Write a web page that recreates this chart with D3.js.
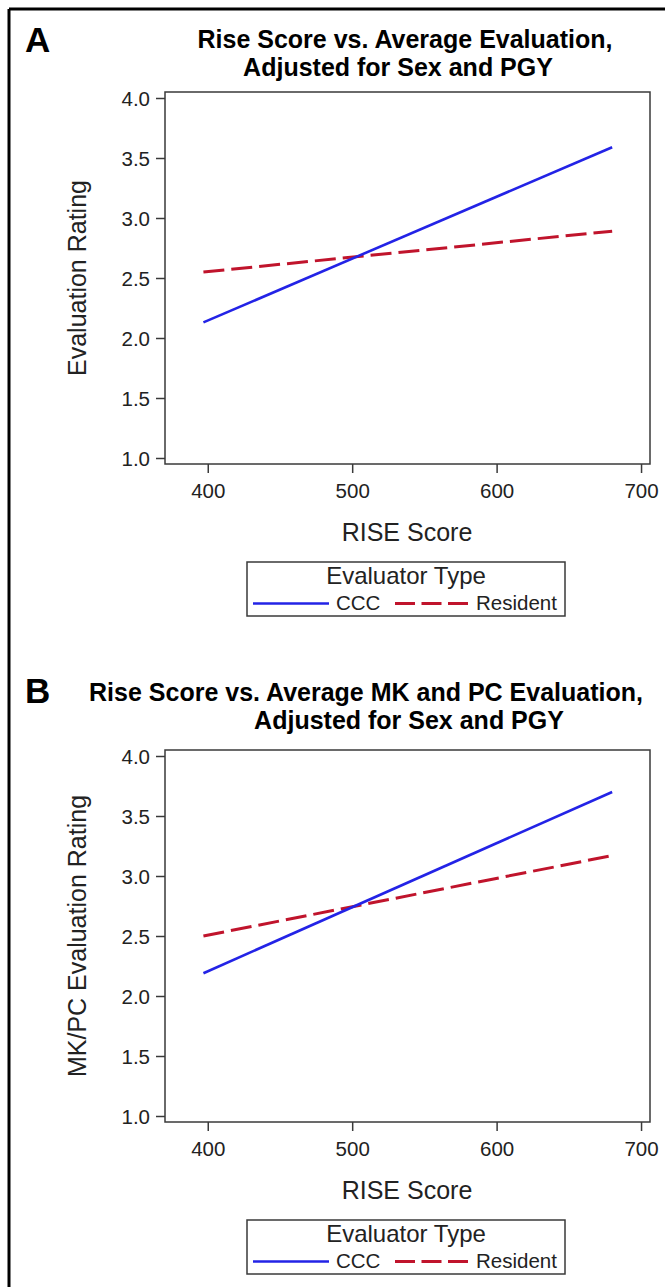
<!DOCTYPE html>
<html>
<head>
<meta charset="utf-8">
<script src="https://cdn.jsdelivr.net/npm/d3@7"></script>
<style>
  body { margin: 0; background: #fff; }
  svg { display: block; font-family: "Liberation Sans", Arial, sans-serif; }
</style>
</head>
<body>
<svg id="chart"></svg>
<script>
// data (straight fitted lines, two end points each)
var riseScores = [397, 680];
var cccA = [2.13, 3.59];
var residentA = [2.55, 2.89];
var cccB = [2.19, 3.70];
var residentB = [2.50, 3.17];

var xTicks = [400, 500, 600, 700];
var yTicks = [1.0, 1.5, 2.0, 2.5, 3.0, 3.5, 4.0];
var seriesNames = ["CCC", "Resident"];

var W = 665, H = 1287;
var svg = d3.select("#chart").attr("width", W).attr("height", H);

// outer frame (only left and top are visible in the crop)
svg.append("line").attr("x1", 9).attr("y1", 9).attr("x2", 9).attr("y2", H)
   .attr("stroke", "#000").attr("stroke-width", 3);
svg.append("line").attr("x1", 9).attr("y1", 9).attr("x2", W).attr("y2", 9)
   .attr("stroke", "#000").attr("stroke-width", 3);

var plot = {left: 165, right: 650, top: 92, bottom: 464};

var xScale = d3.scaleLinear().domain([370.4, 706.2]).range([plot.left, plot.right]);
var yScale = d3.scaleLinear().domain([0.95, 4.05]).range([plot.bottom, plot.top]);

var blue = "#2323e6", red = "#c0142c", axisCol = "#3a3a3a";

function drawPanel(offset, letter, letterY, titles, yLabel, ccc, resident) {
    var g = svg.append("g").attr("transform", "translate(0," + offset + ")");

    g.append("text").attr("x", 25).attr("y", letterY)
        .attr("font-weight", "bold").style("font-size", "35px")
        .text(letter);

    titles.forEach(function (t) {
        g.append("text").attr("x", t.x).attr("y", t.y)
            .attr("text-anchor", "middle")
            .attr("font-weight", "bold")
            .style("font-size", "25px")
            .text(t.text);
    });

    // frame
    g.append("rect").attr("x", plot.left).attr("y", plot.top)
        .attr("width", plot.right - plot.left).attr("height", plot.bottom - plot.top)
        .attr("fill", "none").attr("stroke", axisCol).attr("stroke-width", 1.5);

    // axes
    var yAxis = d3.axisLeft(yScale).tickValues(yTicks).tickFormat(d3.format(".1f"))
        .tickSize(9).tickPadding(6).tickSizeOuter(0);
    var gy = g.append("g").attr("transform", "translate(" + plot.left + ",0)").call(yAxis);

    var xAxis = d3.axisBottom(xScale).tickValues(xTicks).tickFormat(d3.format("d"))
        .tickSize(9).tickPadding(6).tickSizeOuter(0);
    var gx = g.append("g").attr("transform", "translate(0," + plot.bottom + ")").call(xAxis);

    [gx, gy].forEach(function (a) {
        a.select(".domain").remove();
        a.selectAll(".tick line").attr("stroke", axisCol).attr("stroke-width", 1.5);
        a.selectAll(".tick text").attr("fill", "#222")
            .style("font-size", "20.5px").style("font-family", "Liberation Sans, Arial, sans-serif");
    });
    gy.selectAll(".tick text").attr("dy", "0.36em");
    gx.selectAll(".tick text").attr("dy", "0.95em");

    g.append("text").attr("x", 407).attr("y", 541)
        .attr("text-anchor", "middle").attr("fill", "#222")
        .style("font-size", "25px").text("RISE Score");

    g.append("text")
        .attr("transform", "translate(86," + ((plot.top + plot.bottom) / 2) + ") rotate(-90)")
        .attr("text-anchor", "middle").attr("fill", "#222")
        .style("font-size", "25px").text(yLabel);

    // lines
    var line = d3.line().x(function (d) { return xScale(d[0]); }).y(function (d) { return yScale(d[1]); });
    var cccPts = riseScores.map(function (x, i) { return [x, ccc[i]]; });
    var resPts = riseScores.map(function (x, i) { return [x, resident[i]]; });

    g.append("path").datum(resPts).attr("d", line)
        .attr("fill", "none").attr("stroke", red).attr("stroke-width", 3)
        .attr("stroke-dasharray", "21,7");
    g.append("path").datum(cccPts).attr("d", line)
        .attr("fill", "none").attr("stroke", blue).attr("stroke-width", 2.6);

    // legend
    var lg = g.append("g");
    lg.append("rect").attr("x", 247).attr("y", 562).attr("width", 318).attr("height", 54)
        .attr("fill", "none").attr("stroke", axisCol).attr("stroke-width", 1.5);
    lg.append("text").attr("x", 406).attr("y", 584).attr("text-anchor", "middle")
        .attr("fill", "#222").style("font-size", "24px").text("Evaluator Type");
    lg.append("line").attr("x1", 253).attr("x2", 329).attr("y1", 603.5).attr("y2", 603.5)
        .attr("stroke", blue).attr("stroke-width", 2.6);
    lg.append("text").attr("x", 336).attr("y", 610).attr("fill", "#222")
        .style("font-size", "20.5px").text(seriesNames[0]);
    lg.append("line").attr("x1", 395).attr("x2", 468).attr("y1", 603.5).attr("y2", 603.5)
        .attr("stroke", red).attr("stroke-width", 3).attr("stroke-dasharray", "20,6.5");
    lg.append("text").attr("x", 476).attr("y", 610).attr("fill", "#222")
        .style("font-size", "20.5px").text(seriesNames[1]);
}

drawPanel(0, "A", 52,
    [{text: "Rise Score vs. Average Evaluation,", x: 405, y: 48},
     {text: "Adjusted for Sex and PGY", x: 398, y: 76}],
    "Evaluation Rating", cccA, residentA);

drawPanel(658, "B", 45,
    [{text: "Rise Score vs. Average MK and PC Evaluation,", x: 366, y: 43},
     {text: "Adjusted for Sex and PGY", x: 409, y: 71}],
    "MK/PC Evaluation Rating", cccB, residentB);
</script>
</body>
</html>
